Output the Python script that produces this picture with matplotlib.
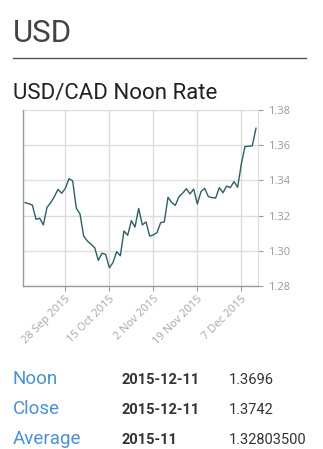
import pandas as pd
import matplotlib
matplotlib.use('Agg')
from matplotlib import pyplot as plt

# USD/CAD noon rate, one value per Bank of Canada business day
start_date = '2015-09-11'
end_date = '2015-12-11'
holidays = ['2015-10-12', '2015-11-11']
noon_rate = [1.3274, 1.3268, 1.3260, 1.3179, 1.3185, 1.3147, 1.3247, 1.3273,
             1.3308, 1.3349, 1.3327, 1.3355, 1.3410, 1.3397, 1.3241, 1.3209,
             1.3084, 1.3056, 1.3037, 1.3018, 1.2946, 1.2986, 1.2980, 1.2904,
             1.2933, 1.2995, 1.2972, 1.3113, 1.3088, 1.3171, 1.3135, 1.3241,
             1.3147, 1.3164, 1.3084, 1.3090, 1.3103, 1.3160, 1.3164, 1.3304,
             1.3275, 1.3258, 1.3308, 1.3327, 1.3353, 1.3323, 1.3351, 1.3266,
             1.3336, 1.3355, 1.3308, 1.3302, 1.3300, 1.3359, 1.3330, 1.3368,
             1.3359, 1.3393, 1.3361, 1.3493, 1.3592, 1.3594, 1.3597, 1.3696]

tick_dates = ['2015-09-28', '2015-10-15', '2015-11-02', '2015-11-19', '2015-12-07']
tick_labels = ['28 Sep 2015', '15 Oct 2015', '2 Nov 2015', '19 Nov 2015', '7 Dec 2015']
y_ticks = [1.28, 1.30, 1.32, 1.34, 1.36, 1.38]

summary_names = ['Noon', 'Close', 'Average']
summary_dates = ['2015-12-11', '2015-12-11', '2015-11']
summary_values = ['1.3696', '1.3742', '1.32803500']

days = pd.bdate_range(start_date, end_date, freq='C', holidays=holidays)
x = list(range(len(days)))
tick_pos = [days.get_loc(pd.Timestamp(d)) for d in tick_dates]

W, H = 323, 449
fig = plt.figure(figsize=(W / 100, H / 100), dpi=100)
fig.patch.set_facecolor('white')

# page headings
fig.text(13 / W, 1 - 42 / H, 'USD', family='Roboto', fontsize=22.5,
         color='#444444', va='baseline')
fig.add_artist(plt.Line2D([13 / W, 306 / W], [1 - 57.5 / H, 1 - 57.5 / H],
                          color='#555555', lw=1.0))
fig.text(13 / W, 1 - 99 / H, 'USD/CAD Noon Rate', family='Roboto',
         fontsize=16, color='#222222', va='baseline')

ax = fig.add_axes([23 / W, 1 - 286 / H, 235 / W, 176 / H])
ax.plot(x, noon_rate, color='#2e5f66', lw=1.0)
ax.set_xlim(-0.55, 63.55)
ax.set_ylim(1.28, 1.38)

ax.yaxis.tick_right()
ax.set_yticks(y_ticks)
ax.set_yticklabels(['%.2f' % v for v in y_ticks])
ax.set_xticks(tick_pos)
ax.set_xticklabels(tick_labels, rotation=45, ha='right', rotation_mode='anchor')

ax.grid(True, color='#dddddd', lw=1.0)
ax.set_axisbelow(True)
ax.tick_params(axis='y', length=3.6, width=0.8, color='#999999', pad=3.6,
               labelsize=8, labelcolor='#999999')
ax.tick_params(axis='x', length=3.4, width=0.8, color='#999999', pad=2,
               labelsize=8, labelcolor='#a6a6a6')
for lab in ax.get_xticklabels() + ax.get_yticklabels():
    lab.set_family('Open Sans')

for side in ['left', 'bottom']:
    ax.spines[side].set_color('#999999')
    ax.spines[side].set_linewidth(1.0)
ax.spines['right'].set_color('#dddddd')
ax.spines['top'].set_visible(False)

# summary rows below the chart
for k in range(len(summary_names)):
    y = 1 - (384.3 + 29.7 * k) / H
    fig.text(13 / W, y, summary_names[k], family='Roboto', fontsize=13.5,
             color='#4a90d9', va='baseline')
    fig.text(121 / W, y, summary_dates[k], family='Roboto', fontsize=10.5,
             weight='bold', color='#333333', va='baseline')
    fig.text(229 / W, y, summary_values[k], family='Roboto', fontsize=10.5,
             color='#333333', va='baseline')

fig.savefig('out.png', dpi=100)
